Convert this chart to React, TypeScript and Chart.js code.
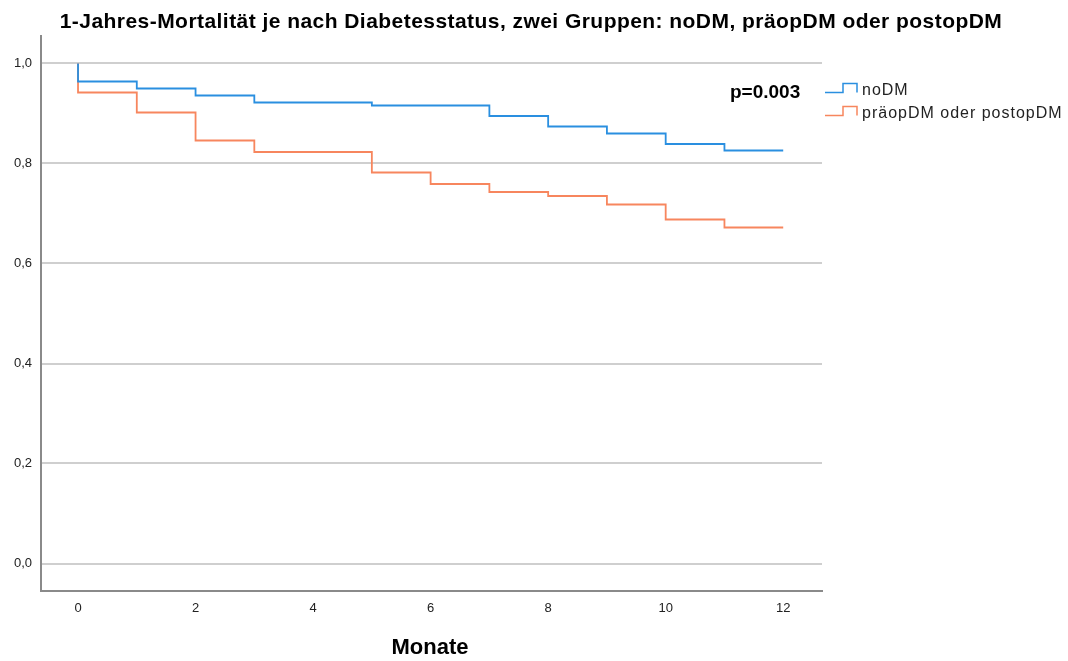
import React, { useEffect, useRef } from "react";
import { Chart, registerables } from "chart.js";

Chart.register(...registerables);

const TITLE = "1-Jahres-Mortalität je nach Diabetesstatus, zwei Gruppen: noDM, präopDM oder postopDM";
const X_TITLE = "Monate";
const P_VALUE = "p=0.003";

const noDmMonths = [0, 0, 1, 2, 3, 5, 7, 8, 9, 10, 11, 12];
const noDmSurvival = [1.0, 0.964, 0.95, 0.936, 0.922, 0.916, 0.895, 0.874, 0.86, 0.839, 0.826, 0.826];

const dmMonths = [0, 0, 1, 2, 3, 5, 6, 7, 8, 9, 10, 11, 12];
const dmSurvival = [1.0, 0.942, 0.902, 0.846, 0.823, 0.782, 0.759, 0.743, 0.735, 0.718, 0.688, 0.672, 0.672];

const seriesNames = ["noDM", "präopDM oder postopDM"];
const seriesColors = ["#2a8fe0", "#f7865e"];

const xTicks = [0, 2, 4, 6, 8, 10, 12];
const yTicks = [0, 0.2, 0.4, 0.6, 0.8, 1.0];

const toPoints = (xs: number[], ys: number[]) => xs.map((x, i) => ({ x, y: ys[i] }));

const FONT = "'Liberation Sans', Arial, sans-serif";

const overlayPlugin = {
  id: "overlay",
  afterDraw(chart: any) {
    const ctx = chart.ctx as any;
    ctx.save();
    ctx.fillStyle = "#000";
    ctx.textBaseline = "alphabetic";
    ctx.textAlign = "center";
    ctx.font = `bold 21px ${FONT}`;
    ctx.letterSpacing = "0.45px";
    ctx.fillText(TITLE, 531, 27.5);
    ctx.letterSpacing = "0px";
    ctx.textBaseline = "middle";
    ctx.font = `bold 22px ${FONT}`;
    ctx.fillText(X_TITLE, 430, 648);
    ctx.textAlign = "left";
    ctx.font = `bold 19px ${FONT}`;
    ctx.fillText(P_VALUE, 730, 93);
    // legend
    ctx.font = `16px ${FONT}`;
    ctx.letterSpacing = "1px";
    seriesNames.forEach((name, i) => {
      const y = 91 + i * 23;
      ctx.strokeStyle = seriesColors[i];
      ctx.lineWidth = 1.5;
      ctx.beginPath();
      ctx.moveTo(825, y + 1.5);
      ctx.lineTo(843, y + 1.5);
      ctx.lineTo(843, y - 7.5);
      ctx.lineTo(857, y - 7.5);
      ctx.lineTo(857, y + 1.5);
      ctx.stroke();
      ctx.fillStyle = "#222";
      ctx.fillText(name, 862, y);
    });
    ctx.restore();
  },
};

export default function App() {
  const canvasRef = useRef<HTMLCanvasElement | null>(null);

  useEffect(() => {
    if (!canvasRef.current) return;
    const chart = new Chart(canvasRef.current, {
      type: "line",
      data: {
        datasets: [
          {
            label: seriesNames[0],
            data: toPoints(noDmMonths, noDmSurvival),
            borderColor: seriesColors[0],
            borderWidth: 1.8,
            pointRadius: 0,
            stepped: "before",
            fill: false,
          },
          {
            label: seriesNames[1],
            data: toPoints(dmMonths, dmSurvival),
            borderColor: seriesColors[1],
            borderWidth: 1.8,
            pointRadius: 0,
            stepped: "before",
            fill: false,
          },
        ],
      },
      options: {
        animation: false,
        responsive: true,
        maintainAspectRatio: false,
        layout: { padding: { left: 0, right: 246, top: 36, bottom: 0 } },
        plugins: {
          legend: { display: false },
          tooltip: { enabled: false },
          title: { display: false },
        },
        scales: {
          x: {
            type: "linear",
            min: -0.63,
            max: 12.66,
            afterBuildTicks: (axis: any) => {
              axis.ticks = xTicks.map((v) => ({ value: v }));
            },
            afterFit: (axis: any) => {
              axis.height = 70;
            },
            grid: { display: false, drawTicks: false },
            border: { display: true, color: "#8a8a8a", width: 2 },
            ticks: {
              color: "#222",
              font: { family: "'Liberation Sans Narrow', 'Liberation Sans', Arial", size: 13 },
              padding: 10,
              maxRotation: 0,
              callback: (v: any) => String(v),
            },
          },
          y: {
            type: "linear",
            min: -0.055,
            max: 1.055,
            afterBuildTicks: (axis: any) => {
              axis.ticks = yTicks.map((v) => ({ value: v }));
            },
            afterFit: (axis: any) => {
              axis.width = 41;
            },
            grid: { display: true, color: "#cfcfcf", lineWidth: 2, drawTicks: false },
            border: { display: true, color: "#8a8a8a", width: 2 },
            ticks: {
              color: "#222",
              font: { family: "'Liberation Sans Narrow', 'Liberation Sans', Arial", size: 13 },
              padding: 9,
              callback: (v: any) => Number(v).toFixed(1).replace(".", ","),
            },
          },
        },
      },
      plugins: [overlayPlugin],
    } as any);
    return () => chart.destroy();
  }, []);

  return (
    <div style={{ position: "fixed", left: 0, top: 0, width: 1068, height: 661, background: "#fff" }}>
      <canvas ref={canvasRef} />
    </div>
  );
}
